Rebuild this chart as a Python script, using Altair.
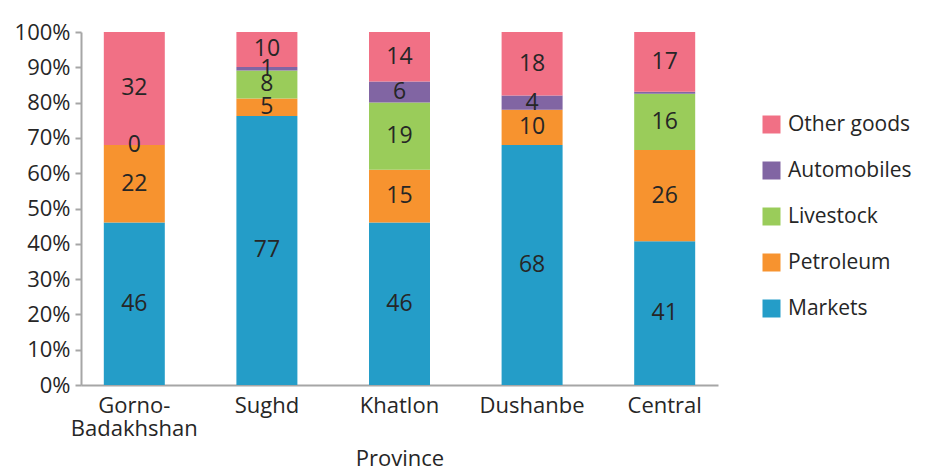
import altair as alt
import pandas as pd

provinces = ["Gorno-\nBadakhshan", "Sughd", "Khatlon", "Dushanbe", "Central"]
series = ["Markets", "Petroleum", "Livestock", "Automobiles", "Other goods"]
markets = [46, 77, 46, 68, 41]
petroleum = [22, 5, 15, 10, 26]
livestock = [0, 8, 19, None, 16]
automobiles = [None, 1, 6, 4, 0.6]
other_goods = [32, 10, 14, 18, 17]
colors = ["#249DC8", "#F7932F", "#9ACC5A", "#8165A3", "#F17085"]
ticks = [0, 0.1, 0.2, 0.3, 0.4, 0.5, 0.6, 0.7, 0.8, 0.9, 1.0]

values = [markets, petroleum, livestock, automobiles, other_goods]
rows = []
for si, (s, vals) in enumerate(zip(series, values)):
    for p, v in zip(provinces, vals):
        if v is None:
            continue
        rows.append({"province": p, "series": s, "rank": si, "value": v})
df = pd.DataFrame(rows)

FONT = "Open Sans"
TXT = "#262626"

base = alt.Chart(df).transform_stack(
    stack="value", groupby=["province"], sort=[{"field": "rank", "order": "ascending"}],
    as_=["v0", "v1"], offset="normalize"
).transform_calculate(mid="(datum.v0 + datum.v1) / 2")

xaxis = alt.Axis(labelExpr="split(datum.label, '\\n')", labelAngle=0,
                 ticks=False, domainColor="#A6A6A6", domainWidth=2,
                 labelFont=FONT, labelFontSize=22, labelColor=TXT,
                 labelPadding=10, labelLineHeight=23, labelOverlap=False,
                 titleFont=FONT, titleFontSize=22, titleColor=TXT,
                 titleFontWeight="normal", titlePadding=9)
yaxis = alt.Axis(format=".0%", values=ticks,
                 grid=False, domainColor="#A6A6A6", domainWidth=2,
                 tickColor="#A6A6A6", tickWidth=2, tickSize=6,
                 labelFont=FONT, labelFontSize=22, labelColor=TXT,
                 labelPadding=5, labelOverlap=False)
xscale = alt.Scale(paddingInner=0.54, paddingOuter=0.172)
yscale = alt.Scale(domain=[0, 1])

bars = base.mark_bar().encode(
    x=alt.X("province:N", sort=provinces, title="Province", scale=xscale, axis=xaxis),
    y=alt.Y("v1:Q", title=None, scale=yscale, axis=yaxis),
    y2="v0:Q",
    color=alt.Color("series:N",
                    scale=alt.Scale(domain=series[::-1], range=colors[::-1]),
                    legend=alt.Legend(title=None, orient="none", legendX=680, legendY=82,
                                      symbolType="square", symbolSize=324,
                                      symbolStrokeWidth=0, labelFont=FONT,
                                      labelFontSize=21, labelColor=TXT, labelOffset=6,
                                      rowPadding=24, padding=0, labelLimit=300)),
)

labels = base.transform_filter("datum.value >= 1 || datum.value == 0").mark_text(
    font=FONT, fontSize=23, color=TXT, baseline="middle"
).encode(
    x=alt.X("province:N", sort=provinces, title="Province", scale=xscale, axis=xaxis),
    y=alt.Y("mid:Q", title=None, scale=yscale, axis=yaxis),
    text=alt.Text("value:Q", format="d"),
)

chart = (bars + labels).properties(
    width=637, height=353,
    padding={"left": 73, "top": 24, "right": 200, "bottom": 85},
    autosize=alt.AutoSizeParams(type="none"),
).configure_view(stroke=None)

chart.save("out.html", embed_options={"renderer": "svg", "actions": False})
